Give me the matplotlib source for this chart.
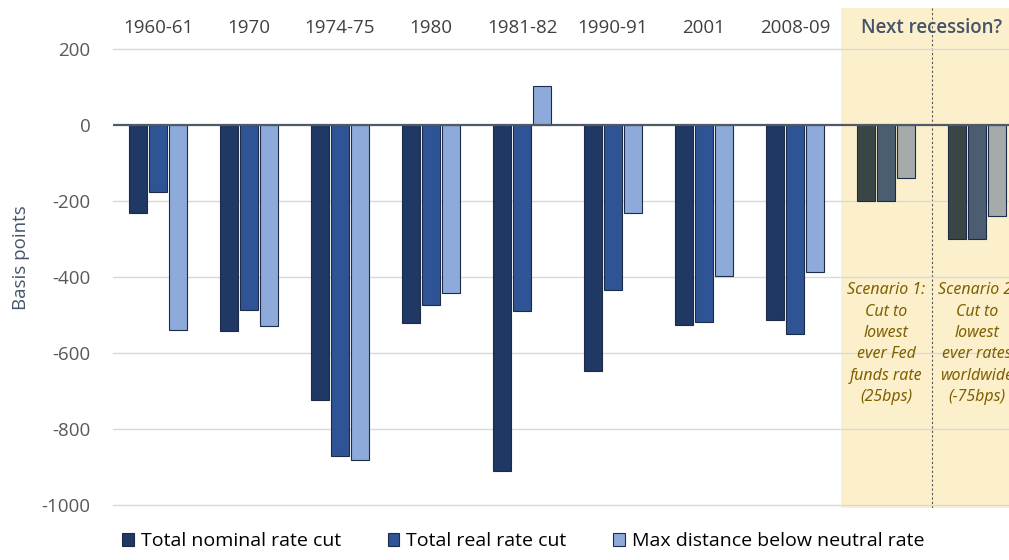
import numpy as np
import matplotlib
matplotlib.use("Agg")
import matplotlib.pyplot as plt
from matplotlib.patches import Rectangle

# data (basis points)
periods = ["1960-61", "1970", "1974-75", "1980", "1981-82", "1990-91", "2001", "2008-09",
           "Scenario 1", "Scenario 2"]
nominal_cut = [-232, -542, -724, -521, -911, -647, -526, -513, -200, -300]
real_cut = [-176, -487, -871, -474, -489, -434, -518, -550, -200, -300]
max_below_neutral = [-540, -529, -882, -442, 103, -232, -397, -387, -140, -240]
scenario_notes = ["Scenario 1:\nCut to\nlowest\never Fed\nfunds rate\n(25bps)",
                  "Scenario 2:\nCut to\nlowest\never rates\nworldwide\n(-75bps)"]
legend_labels = ["Total nominal rate cut", "Total real rate cut", "Max distance below neutral rate"]

n_hist = 8
hist_colors = ["#1f3864", "#2f5496", "#8eaadb"]
scen_colors = ["#3a4646", "#4b5d70", "#a5aaaa"]
edge = "#1c2b48"

fig = plt.figure(figsize=(10.09, 5.6), dpi=100)
ax = fig.add_axes([0.1115, 0.0929, 0.9019, 0.8929])
ax.set_xlim(-0.5, len(periods) - 0.5)
ax.set_ylim(-1008, 308)

# shaded "next recession" area
ax.add_patch(Rectangle((n_hist - 0.5, -1008), 3, 1316, color="#fcf0cc", zorder=0, lw=0))
ax.axvline(n_hist + 0.5, ymin=0, ymax=1, color="#555555", lw=0.8, ls=(0, (2, 2)), zorder=1)

for t in range(-1000, 201, 200):
    if t != 0:
        ax.plot([-0.5, len(periods) - 0.5], [t, t], color="#d9d9d9", lw=1, zorder=1)
ax.axhline(0, color="#505a66", lw=1.6, zorder=4)

x = np.arange(len(periods))
w = 0.2
offs = [-0.22, 0, 0.22]
series = [nominal_cut, real_cut, max_below_neutral]
for k, vals in enumerate(series):
    cols = [hist_colors[k]] * n_hist + [scen_colors[k]] * (len(periods) - n_hist)
    ax.bar(x + offs[k], vals, width=w, color=cols, edgecolor=edge, linewidth=0.8, zorder=3)

# category labels on top
for i in range(n_hist):
    ax.text(i, 255, periods[i], ha="center", va="center", fontsize=13.5, color="#404040",
            fontfamily="Open Sans")
ax.text(n_hist + 0.5, 255, "Next recession?", ha="center", va="center", fontsize=13.5,
        color="#44546a", fontfamily="Open Sans", fontweight="semibold")

for j, note in enumerate(scenario_notes):
    ax.text(n_hist + j, -414, note, ha="center", va="top", fontsize=11.5, style="italic",
            color="#7f6000", linespacing=1.45, fontfamily="Noto Sans")

ax.set_yticks(range(-1000, 201, 200))
ax.set_yticklabels([str(t) for t in range(-1000, 201, 200)], fontsize=13.5, color="#595959",
                   fontfamily="Open Sans")
ax.tick_params(axis="y", length=0, pad=16)
ax.set_xticks([])
for s in ax.spines.values():
    s.set_visible(False)
ax.set_ylabel("Basis points", fontsize=13.5, color="#44546a", fontfamily="Open Sans", labelpad=8)

handles = [Rectangle((0, 0), 1, 1, facecolor=c, edgecolor=edge, lw=0.8) for c in hist_colors]
fig.legend(handles, legend_labels, loc="lower left", bbox_to_anchor=(0.104, -0.014), ncol=3,
           frameon=False, handlelength=0.6, handleheight=0.7, handletextpad=0.35,
           columnspacing=2.4, prop={"family": "Open Sans", "size": 14})

fig.savefig("out.png", dpi=100)
